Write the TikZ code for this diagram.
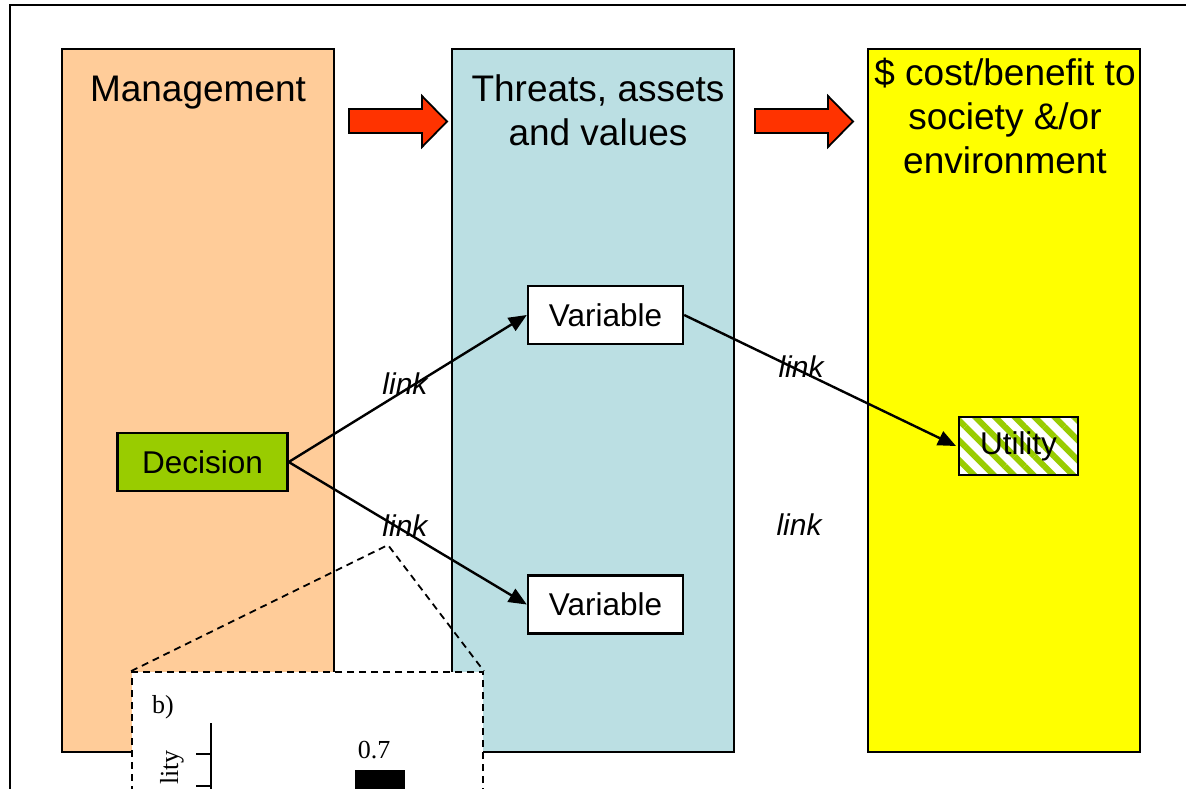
\documentclass[tikz,border=0pt]{standalone}
\usepackage{fontspec}
\setmainfont{Liberation Sans}
\newfontfamily\plotfont{Liberation Serif}
\usetikzlibrary{arrows.meta,patterns.meta}
\definecolor{mgmtbg}{HTML}{FFCC99}
\definecolor{threatbg}{HTML}{BBDFE3}
\definecolor{valuebg}{HTML}{FFFF00}
\definecolor{decgreen}{HTML}{99CC00}
\definecolor{flowred}{HTML}{FF3300}
\begin{document}
\begin{tikzpicture}[x=1pt,y=-1pt,
  column/.style={draw, line width=2.4pt, inner sep=0pt},
  coltitle/.style={font=\fontsize{37}{44}\selectfont, align=center, anchor=base, inner sep=0pt},
  box/.style={draw, line width=2.4pt, minimum height=58pt, inner sep=0pt,
    font=\fontsize{31.5}{36}\selectfont},
  linklabel/.style={font=\fontsize{30}{36}\selectfont\itshape, inner sep=0pt},
  link/.style={line width=2.4pt, -{Triangle[length=18pt,width=15pt]}},
  flowarrow/.style={fill=flowred, draw, line width=1.8pt, line join=miter},
  frame/.style={line width=2.4pt},
  zoomline/.style={line width=1.8pt, dash pattern=on 7pt off 5pt},
  plottext/.style={font=\fontsize{26}{30}\plotfont, inner sep=0pt}
]
\useasboundingbox (0,0) rectangle (1186,788);
\clip (0,0) rectangle (1186,788);

% outer frame
\draw[frame] (1190,5) -- (10,5) -- (10,792);

% three columns
\node[column, fill=mgmtbg, minimum width=272pt, minimum height=703pt] (mgmt) at (198,400.5) {};
\node[column, fill=threatbg, minimum width=282pt, minimum height=703pt] (threat) at (593,400.5) {};
\node[column, fill=valuebg, minimum width=272pt, minimum height=703pt] (value) at (1004,400.5) {};

% column titles (base anchor sits on the last line)
\node[coltitle] (mgmttitle) at (198,101) {Management};
\node[coltitle] (threattitle) at (598,145) {Threats, assets\\and values};
\node[coltitle] (valuetitle) at (1005,173) {\$ cost/benefit to\\society \&/or\\environment};

% flow arrows between columns
\draw[flowarrow] (349,109) -- (422,109) -- (422,96) -- (447,121.5) -- (422,147) -- (422,133) -- (349,133) -- cycle;
\draw[flowarrow] (755,109) -- (828,109) -- (828,96) -- (853,121.5) -- (828,147) -- (828,133) -- (755,133) -- cycle;

% model nodes
\node[box, fill=decgreen, minimum width=170pt] (dec) at (202.5,462) {Decision};
\node[box, fill=white, minimum width=155pt] (var1) at (605.5,315) {Variable};
\node[box, fill=white, minimum width=155pt] (var2) at (605.5,604.5) {Variable};
\node[box, minimum width=119pt, preaction={fill=white},
  pattern={Lines[angle=-45,distance=14pt,line width=6pt]}, pattern color=decgreen] (util) at (1018.5,446) {Utility};

% links
\draw[link] (dec.east) -- (var1.west);
\draw[link] (dec.east) -- (var2.west);
\draw[link] (var1.east) -- (util.west);

\node[linklabel] (l1) at (405,384) {link};
\node[linklabel] (l2) at (405,526) {link};
\node[linklabel] (l3) at (801,367) {link};
\node[linklabel] (l4) at (799,525) {link};

% zoomed inset of a link
\coordinate (apex) at (388,545);
\node[draw, zoomline, fill=white, minimum width=351pt, minimum height=240pt, inner sep=0pt] (inset) at (307.5,792) {};
\draw[zoomline] (inset.north west) -- (apex) -- (inset.north east);

\node[plottext, anchor=base west] (blabel) at (152,713) {b)};
\coordinate (axtop) at (211,723);
\coordinate (axbot) at (211,792);
\draw[line width=1.8pt] (axtop) -- (axbot);
\coordinate (tickA) at (196,754);
\coordinate (tickB) at (196,786);
\draw[line width=1.8pt] (tickA) -- (tickA -| axtop);
\draw[line width=1.8pt] (tickB) -- (tickB -| axtop);
\node[plottext, rotate=90, anchor=base east] (ylabel) at (178,750) {lity};
\node[plottext] (val) at (374,750) {0.7};
\node[fill=black, minimum width=50pt, minimum height=22pt, inner sep=0pt] (bar) at (380,781) {};
\end{tikzpicture}
\end{document}
